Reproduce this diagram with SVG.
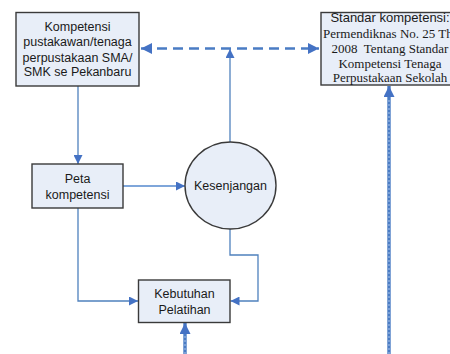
<svg xmlns="http://www.w3.org/2000/svg" width="450" height="354" viewBox="0 0 450 354">
<style>
.box{fill:#E8EEF8;stroke:#3A3A3A;stroke-width:1.4}
.sans{font-family:"Liberation Sans",Arial,sans-serif;font-size:12.5px;fill:#1a1a1a;text-anchor:middle}
.serif{font-family:"Liberation Serif","Times New Roman",serif;font-size:13px;fill:#1a1a1a;text-anchor:middle;white-space:pre}
.thin{fill:none;stroke:#4F81BD;stroke-width:1.3}
.light{fill:none;stroke:#7FA6DA;stroke-width:2}
.dash{fill:none;stroke:#4A7CC4;stroke-width:2.6;stroke-dasharray:10 6}
.dbl{fill:none;stroke:#4A7CC4;stroke-width:3.4}
.dblc{fill:none;stroke:#A9C3E8;stroke-width:1;stroke-dasharray:2 2}
</style>
<defs>
<marker id="ah" viewBox="0 0 10 10" refX="10" refY="5" markerWidth="10" markerHeight="9" markerUnits="userSpaceOnUse" orient="auto-start-reverse">
<path d="M0,0 L10,5 L0,10 Z" fill="#4472C4"/>
</marker>
<marker id="ahb" viewBox="0 0 10 10" refX="10" refY="5" markerWidth="12" markerHeight="11" markerUnits="userSpaceOnUse" orient="auto-start-reverse">
<path d="M0,0 L10,5 L0,10 Z" fill="#4472C4"/>
</marker>
</defs>
<g id="connectors">
<path class="dash" d="M141,48.5 H319" marker-start="url(#ahb)" marker-end="url(#ahb)"/>
<path class="thin" d="M230,142 V49" marker-end="url(#ah)"/>
<path class="thin" d="M78,86 V164" marker-end="url(#ah)"/>
<path class="light" d="M123,186 H185" marker-end="url(#ah)"/>
<path class="thin" d="M78,208 V301 H138" marker-end="url(#ah)"/>
<path class="thin" d="M230,229 V255 H258 V301 H230.5" marker-end="url(#ah)"/>
<path class="dbl" d="M389,354 V86" marker-end="url(#ahb)"/>
<path class="dblc" d="M389,354 V98"/>
<path class="dbl" d="M185,354 V323" marker-end="url(#ahb)"/>
<path class="dblc" d="M185,354 V335"/>
</g>
<g id="kompetensi-pustakawan">
<rect class="box" x="16" y="12.5" width="123" height="73.5"/>
<text class="sans" x="77.5" y="30.5">Kompetensi</text>
<text class="sans" x="77.5" y="46">pustakawan/tenaga</text>
<text class="sans" x="77.5" y="61.5">perpustakaan SMA/</text>
<text class="sans" x="77.5" y="76">SMK se Pekanbaru</text>
</g>
<g id="standar-kompetensi">
<rect class="box" x="321" y="12.5" width="150" height="72.5"/>
<text class="sans" x="390" y="21.5" style="font-size:13px">Standar kompetensi:</text>
<text class="serif" x="323" y="37.5" style="text-anchor:start">Permendiknas No. 25 Th</text>
<text class="serif" x="390" y="52.5">2008  Tentang Standar</text>
<text class="serif" x="390" y="67.5">Kompetensi Tenaga</text>
<text class="serif" x="390" y="82">Perpustakaan Sekolah</text>
</g>
<g id="peta-kompetensi">
<rect class="box" x="32" y="164" width="91" height="44"/>
<text class="sans" x="77.5" y="182.5">Peta</text>
<text class="sans" x="77.5" y="198.5">kompetensi</text>
</g>
<g id="kesenjangan">
<ellipse class="box" cx="230.5" cy="185.5" rx="45.5" ry="43.5"/>
<text class="sans" x="230.5" y="190">Kesenjangan</text>
</g>
<g id="kebutuhan-pelatihan">
<rect class="box" x="138.5" y="280" width="91.5" height="42.5"/>
<text class="sans" x="184.5" y="297.5">Kebutuhan</text>
<text class="sans" x="184.5" y="313.5">Pelatihan</text>
</g>
</svg>
